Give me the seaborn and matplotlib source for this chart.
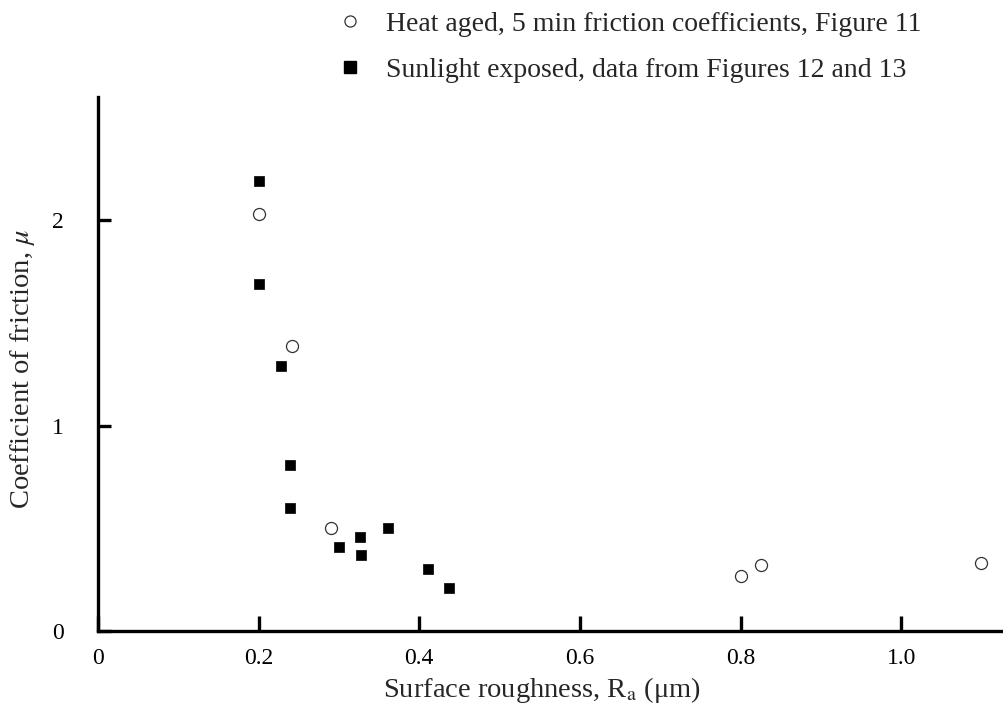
import matplotlib
matplotlib.use("Agg")
import matplotlib.pyplot as plt
from matplotlib.lines import Line2D
import seaborn as sns
import pandas as pd

# Heat aged, 5 min friction coefficients (Figure 11)
heat_x = [0.200, 0.241, 0.290, 0.800, 0.826, 1.099]
heat_y = [2.03, 1.39, 0.50, 0.27, 0.32, 0.33]

# Sunlight exposed (Figures 12 and 13)
sun_x = [0.200, 0.200, 0.228, 0.239, 0.239, 0.300, 0.326, 0.327, 0.361, 0.411, 0.437]
sun_y = [2.19, 1.69, 1.29, 0.81, 0.60, 0.41, 0.46, 0.37, 0.50, 0.30, 0.21]

heat_label = "Heat aged, 5 min friction coefficients, Figure 11"
sun_label = "Sunlight exposed, data from Figures 12 and 13"
x_ticks = [0, 0.2, 0.4, 0.6, 0.8, 1.0]
x_ticklabels = ["0", "0.2", "0.4", "0.6", "0.8", "1.0"]
y_ticks = [0, 1, 2]
y_ticklabels = ["0", "1", "2"]

sns.set_style("white")
plt.rcParams["font.family"] = ["Liberation Serif", "DejaVu Serif"]
plt.rcParams["mathtext.fontset"] = "stix"

fig = plt.figure(figsize=(10.04, 7.09), dpi=100)
ax = fig.add_axes([0.0976, 0.110, 0.9024, 0.753])

heat_df = pd.DataFrame({"x": heat_x, "y": heat_y})
sun_df = pd.DataFrame({"x": sun_x, "y": sun_y})

sns.scatterplot(data=sun_df, x="x", y="y", ax=ax, marker="s", s=62,
                color="black", edgecolor="black", linewidth=0.5, zorder=3)
sns.scatterplot(data=heat_df, x="x", y="y", ax=ax, marker="o", s=75,
                facecolor="white", edgecolor="#333333", linewidth=0.9, zorder=3)

ax.set_xlim(0, 1.128)
ax.set_ylim(0, 2.6)
ax.set_xticks(x_ticks)
ax.set_xticklabels(x_ticklabels)
ax.set_yticks(y_ticks)
ax.set_yticklabels(y_ticklabels)

for s in ["top", "right"]:
    ax.spines[s].set_visible(False)
for s in ["left", "bottom"]:
    ax.spines[s].set_visible(True)
    ax.spines[s].set_linewidth(2.4)
    ax.spines[s].set_color("black")

ax.tick_params(axis="x", direction="in", length=11, width=2.4, pad=12,
               labelsize=17, colors="black", bottom=True)
ax.tick_params(axis="y", direction="in", length=9, width=2.4, pad=24.5,
               labelsize=17, colors="black", left=True)

ax.set_xlabel("Surface roughness, R$_\\mathrm{a}$ (\u03bcm)", fontsize=20.5)
ax.set_ylabel("Coefficient of friction, $\\mu$", fontsize=20.5)
ax.xaxis.set_label_coords(0.49, -0.083)
ax.yaxis.set_label_coords(-0.067, 0.49)

handles = [
    Line2D([], [], linestyle="none", marker="o", markersize=8,
           markerfacecolor="white", markeredgecolor="#333333", markeredgewidth=0.9),
    Line2D([], [], linestyle="none", marker="s", markersize=8,
           markerfacecolor="black", markeredgecolor="black"),
]
fig.legend(handles, [heat_label, sun_label], loc="upper left",
           bbox_to_anchor=(0.324, 1.0), frameon=False, fontsize=20,
           handlelength=1.0, handletextpad=0.8, labelspacing=0.75,
           borderaxespad=0.0, borderpad=0.4)

fig.savefig("out.png", dpi=100)
